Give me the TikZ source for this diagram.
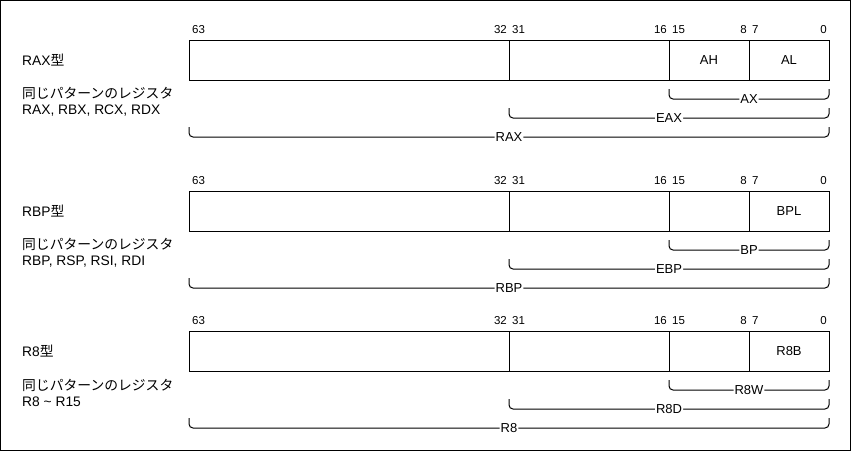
\documentclass[tikz,border=0pt]{standalone}
\usepackage{fontspec}
\setmainfont{Liberation Sans}
\newfontfamily\jpfont{Noto Sans CJK JP}
\usetikzlibrary{positioning}
\tikzset{
        cell/.style = {draw=black, line width=1pt, outer sep=0pt,
            minimum height=40pt, inner sep=0pt,
            font=\fontsize{13}{15}\selectfont},
        bitno/.style = {inner sep=0pt, font=\fontsize{11.5}{13}\selectfont},
        regbrace/.style = {draw=black, line width=1pt, rounded corners=4pt},
        bracetext/.style = {fill=white, inner sep=1pt,
            font=\fontsize{13}{15}\selectfont},
        regname/.style = {anchor=west, inner sep=0pt, align=left,
            font=\fontsize{13.8}{16}\selectfont}
    }

\begin{document}
\begin{tikzpicture}[x=1pt,y=-1pt]
    \useasboundingbox (0,0) rectangle (851,451);
    \draw [line width=1pt] (0.5,0.5) rectangle (850.5,450.5); % frame
    \foreach \y/\typ/\lst/\hib/\lob/\wrd/\dwd/\qwd [count=\i] in
        {40/RAX/{RAX, RBX, RCX, RDX}/AH/AL/AX/EAX/RAX,
         191/RBP/{RBP, RSP, RSI, RDI}//BPL/BP/EBP/RBP,
         331/R8/{R8 \textasciitilde{} R15}//R8B/R8W/R8D/R8}
    {
        % register cells
        \node [cell, anchor=north west, minimum width=320pt] (q\i) at (189,\y) {};
        \node [cell, minimum width=160pt, right=0pt of q\i] (d\i) {};
        \node [cell, minimum width=80pt, right=0pt of d\i] (h\i) {\hib};
        \node [cell, minimum width=80pt, right=0pt of h\i] (l\i) {\lob};
        % bit numbers
        \node [bitno, above right=6pt and 3pt of q\i.north west] (b63\i) {63};
        \node [bitno, above left=6pt and 2pt of q\i.north east] (b32\i) {32};
        \node [bitno, above right=6pt and 3pt of d\i.north west] (b31\i) {31};
        \node [bitno, above left=6pt and 2pt of d\i.north east] (b16\i) {16};
        \node [bitno, above right=6pt and 3pt of h\i.north west] (b15\i) {15};
        \node [bitno, above left=6pt and 2pt of h\i.north east] (b8\i) {8};
        \node [bitno, above right=6pt and 3pt of l\i.north west] (b7\i) {7};
        \node [bitno, above left=6pt and 2pt of l\i.north east] (b0\i) {0};
        % sub registers
        \draw [regbrace] ([yshift=-9pt]h\i.south west) -- ([yshift=-19pt]h\i.south west)
            -- node [bracetext] (w\i) {\wrd} ([yshift=-19pt]l\i.south east)
            -- ([yshift=-9pt]l\i.south east);
        \draw [regbrace] ([yshift=-28pt]d\i.south west) -- ([yshift=-38pt]d\i.south west)
            -- node [bracetext] (e\i) {\dwd} ([yshift=-38pt]l\i.south east)
            -- ([yshift=-28pt]l\i.south east);
        \draw [regbrace] ([yshift=-47pt]q\i.south west) -- ([yshift=-57pt]q\i.south west)
            -- node [bracetext] (r\i) {\qwd} ([yshift=-57pt]l\i.south east)
            -- ([yshift=-47pt]l\i.south east);
        % names on the left
        \node [regname] (t\i) at (22,\y+20) {\typ{\jpfont 型}};
        \node [regname] (s\i) at (22,\y+62) {{\jpfont 同じパターンのレジスタ}\\\lst};
    }
\end{tikzpicture}
\end{document}
